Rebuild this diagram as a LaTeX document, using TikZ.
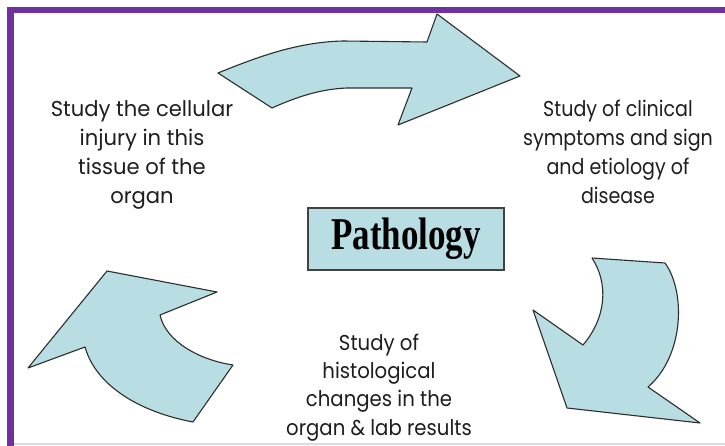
\documentclass[tikz,border=0pt]{standalone}
\usepackage{fontspec}
\setmainfont{Poppins}
\newfontfamily\titlefont{Liberation Serif}
\definecolor{arrowfill}{RGB}{184,222,228}
\definecolor{edge}{RGB}{45,45,45}
\definecolor{frame}{RGB}{112,48,160}
\definecolor{txt}{RGB}{30,30,30}
\definecolor{bottomline}{RGB}{222,216,238}
\newcommand{\lbl}[2][1]{\scalebox{#1}[1.05]{\begin{tabular}{@{}c@{}}#2\end{tabular}}}
\tikzset{
  cyclearrow/.style={fill=arrowfill, draw=edge, line width=1.1pt, line join=round},
  labeltext/.style={inner sep=0pt, text=txt, font=\fontsize{20.5}{27.6}\selectfont},
  titlebox/.style={fill=arrowfill, draw=edge!90, line width=1.4pt, minimum width=196pt, minimum height=62pt, inner sep=0pt}
}
\begin{document}
\begin{tikzpicture}[x=1pt,y=-1pt]
\useasboundingbox (0,0) rectangle (725,446);
\fill[white] (0,0) rectangle (725,446);
% frame
\fill[frame] (7,7) rectangle (725,13);
\fill[frame] (7,7) rectangle (14,446);
\draw[bottomline, line width=2pt] (14,444) -- (725,444);

% top arrow
\draw[cyclearrow] (218,73) .. controls (262,55) and (300,42) .. (343,41)
  -- (427,42) -- (437,14) -- (520,76) -- (398,125) -- (412,88) -- (347,88)
  .. controls (318,89) and (292,99) .. (272,108) -- cycle;

% right arrow
\draw[cyclearrow] (592,258) -- (665,263)
  .. controls (686,292) and (684,356) .. (648,387)
  -- (700,423) -- (567,408) -- (533,310) -- (583,345)
  .. controls (606,318) and (609,284) .. cycle;

% left arrow
\draw[cyclearrow] (28,368) -- (107,271) -- (217,292) -- (160,315)
  .. controls (166,342) and (200,360) .. (233,365)
  -- (193,422)
  .. controls (140,412) and (96,386) .. (85,347) -- cycle;

% center box
\node[titlebox] (path) at (406,239) {\scalebox{1}[1.3]{\titlefont\bfseries\fontsize{35}{40}\selectfont Pathology}};

% labels
\node[labeltext] (cell) at (142,154) {\lbl[1.03]{Study the cellular\\ injury in this\\ tissue of the\\ organ}};
\node[labeltext] (clin) at (618,154) {\lbl[0.93]{Study of clinical\\ symptoms and sign\\ and etiology of\\ disease}};
\node[labeltext, font=\fontsize{20.5}{27.1}\selectfont] (hist) at (379,387) {\lbl[0.96]{Study of\\ histological\\ changes in the\\ organ \& lab results}};
\end{tikzpicture}
\end{document}
